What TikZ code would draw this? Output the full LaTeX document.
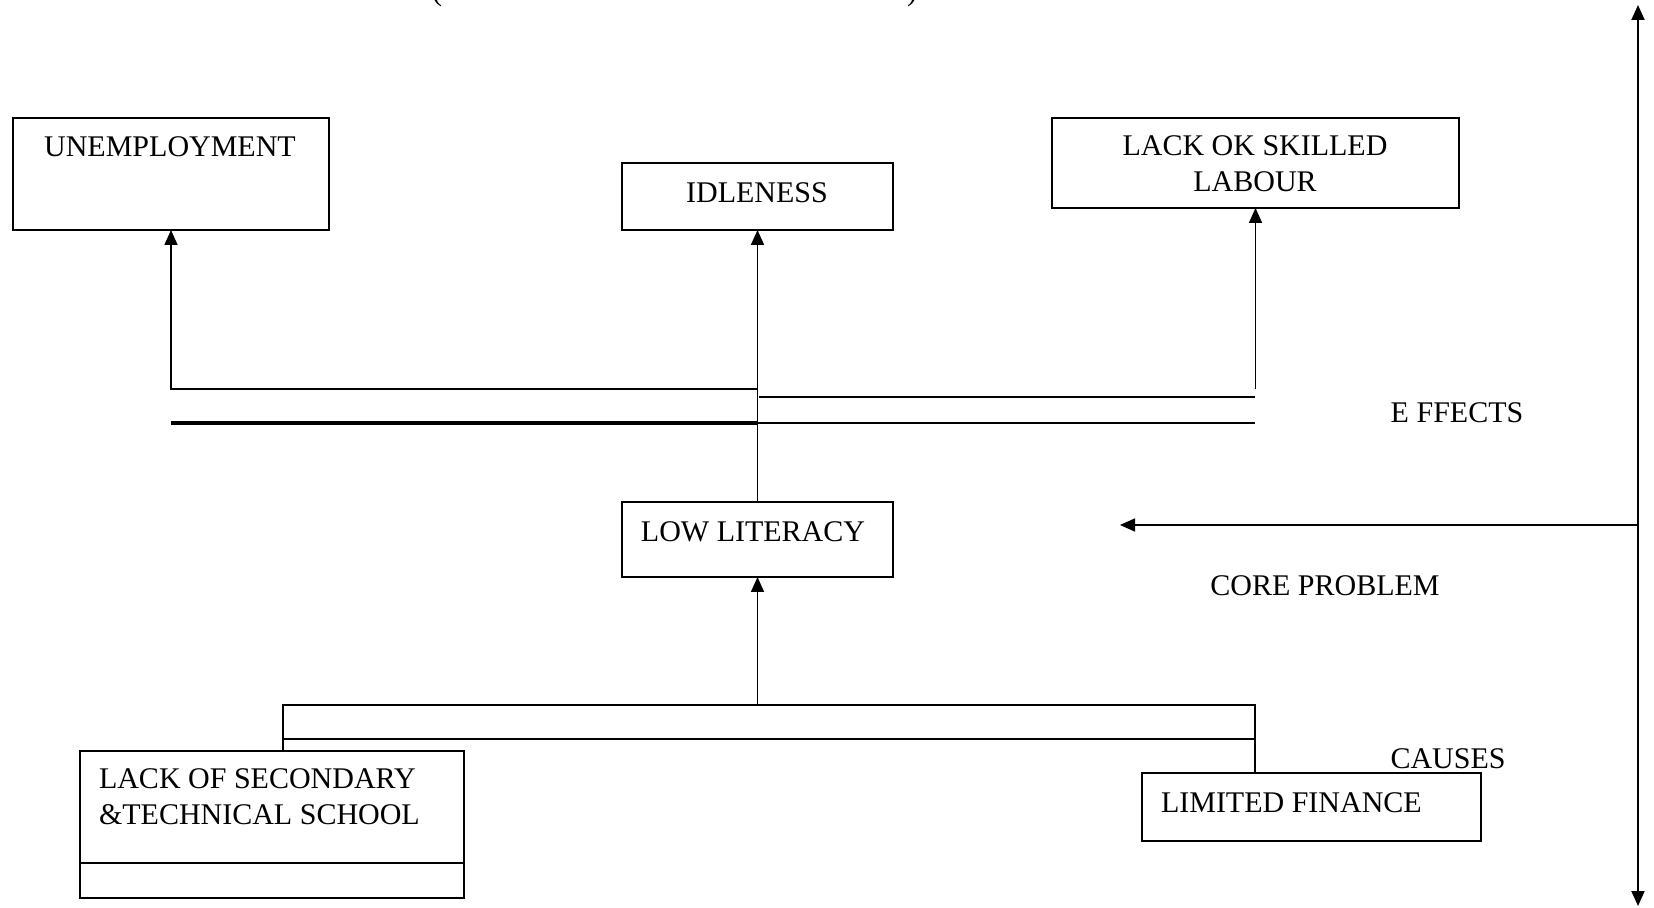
\documentclass[tikz,border=0pt]{standalone}
\usepackage{fontspec}
\setmainfont{Liberation Serif}
\usetikzlibrary{arrows.meta}
\begin{document}
\begin{tikzpicture}[x=0.5pt,y=-0.5pt,
  font=\fontsize{15}{18}\selectfont,
  box/.style={draw, line width=0.8pt, inner sep=0pt, outer sep=0pt},
  txt/.style={inner sep=0pt, outer sep=0pt},
  ln/.style={line width=0.8pt},
  arr/.style={line width=0.8pt, -{Triangle[length=7.5pt,width=6.5pt]}},
  dbl/.style={line width=1pt, {Triangle[length=7.5pt,width=6.5pt]}-{Triangle[length=7.5pt,width=6.5pt]}}]
\useasboundingbox (0,0) rectangle (1654,908);
% partly visible heading parentheses
\node[txt, anchor=base] (lp) at (437,1) {(};
\node[txt, anchor=base] (rp) at (912,1) {)};
% boxes
\node[box, minimum width=158pt, minimum height=56pt] (unemp) at (171,174) {};
\node[box, minimum width=135.5pt, minimum height=33.5pt] (idle) at (757.5,196.5) {};
\node[box, minimum width=203.5pt, minimum height=45pt] (skill) at (1255.5,163) {};
\node[box, minimum width=135.5pt, minimum height=37.5pt] (low) at (757.5,539.5) {};
\node[box, minimum width=192pt, minimum height=56pt] (sec) at (272,807) {};
\node[box, minimum width=192pt, minimum height=17.5pt] (sec2) at (272,880.5) {};
\node[box, minimum width=169.5pt, minimum height=34pt] (fin) at (1311.5,807) {};
% texts
\node[txt] (tunemp) at (170,146.5) {UNEMPLOYMENT};
\node[txt] (tidle) at (757,192.5) {IDLENESS};
\node[txt, align=center] (tskill) at (1255,163.5) {LACK OK SKILLED\\LABOUR};
\node[txt] (tlow) at (753,531.5) {LOW LITERACY};
\node[txt, anchor=west, align=left] (tsec) at (99,796.5) {LACK OF SECONDARY\\\&TECHNICAL SCHOOL};
\node[txt, anchor=west] (tfin) at (1161,802.5) {LIMITED FINANCE};
\node[txt] (teff) at (1457,412.5) {E FFECTS};
\node[txt] (tcore) at (1325,585.5) {CORE PROBLEM};
\node[txt] (tcau) at (1448,758.5) {CAUSES};
% effects connectors
\coordinate (hj) at (757,389);
\coordinate (sj) at (1255.5,389);
\draw[arr] (hj) -| (unemp.south);
\draw[arr] (sj) -- (skill.south);
\draw[arr] (low.north) -- (idle.south);
\coordinate (e1a) at (759,397);
\coordinate (e1b) at (1255,397);
\draw[ln] (e1a) -- (e1b);
\coordinate (e2a) at (171,423);
\coordinate (e2b) at (757,423);
\coordinate (e2c) at (1255,423);
\draw[line width=1.6pt] (e2a) -- (e2b);
\draw[ln] (e2b) -- (e2c);
% causes connectors
\coordinate (bt) at (757.5,705);
\coordinate (bl) at (283,705);
\coordinate (br) at (1255,739);
\draw[arr] (bt) -- (low.south);
\draw[ln] (bl) rectangle (br);
\draw[ln] (bl |- br) -- (bl |- sec.north);
\draw[ln] (br) -- (br |- fin.north);
% right side arrows
\coordinate (rt) at (1638,5);
\coordinate (rb) at (1638,906);
\coordinate (rm) at (1638,525);
\coordinate (cp) at (1120,525);
\draw[dbl] (rt) -- (rb);
\draw[arr] (rm) -- (cp);
\end{tikzpicture}
\end{document}
